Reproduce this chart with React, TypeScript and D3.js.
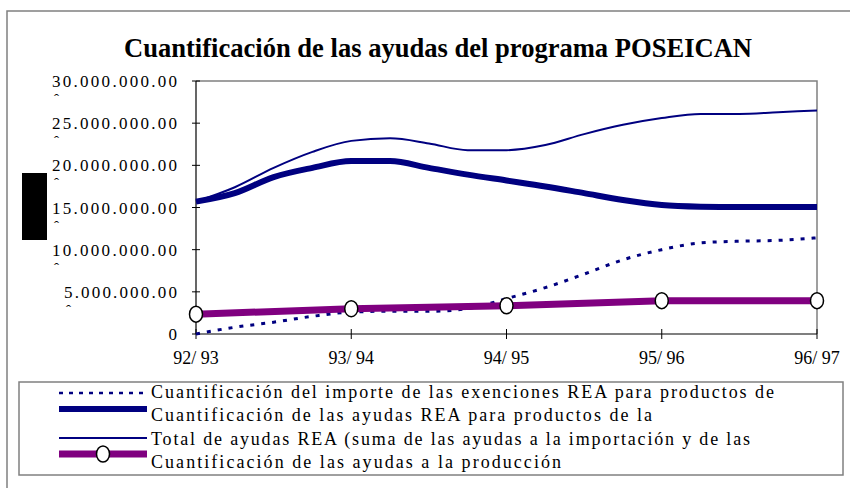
import React from "react";
import * as d3 from "d3";

const yearLabels = ["92/ 93", "93/ 94", "94/ 95", "95/ 96", "96/ 97"];
const yearIdx = [0, 4, 8, 12, 16];
const exenciones = [0, 0.8, 1.4, 2.1, 2.6, 2.7, 2.7, 3.0, 4.2, 5.5, 7.1, 8.8, 10.0, 10.8, 11.0, 11.1, 11.4];
const ayudasREA = [15.7, 16.7, 18.6, 19.7, 20.5, 20.5, 19.7, 18.9, 18.2, 17.5, 16.7, 15.9, 15.3, 15.1, 15.05, 15.05, 15.05];
const totalREA = [15.7, 17.4, 19.7, 21.6, 22.9, 23.2, 22.6, 21.8, 21.8, 22.4, 23.7, 24.8, 25.6, 26.1, 26.1, 26.3, 26.5];
const produccion = [2.35, 3.0, 3.35, 3.95, 3.95];
const yTicks = [0, 5, 10, 15, 20, 25, 30];
const yTickLabels = ["0", "5.000.000.00", "10.000.000.00", "15.000.000.00", "20.000.000.00", "25.000.000.00", "30.000.000.00"];
const legendLabels = [
  "Cuantificación del importe de las exenciones REA para productos de",
  "Cuantificación de las ayudas REA para productos de la",
  "Total de ayudas REA (suma de las ayudas a la importación y de las",
  "Cuantificación de las ayudas a la producción",
];

const NAVY = "#000080";
const PURPLE = "#800080";
const FONT = "Liberation Serif, Times New Roman, serif";

export default function App() {
  const W = 850, H = 488;
  const x = d3.scaleLinear().domain([0, 16]).range([196, 817]);
  const y = d3.scaleLinear().domain([0, 30]).range([334, 81]);
  const line = d3.line<number>().x((_, i) => x(i)).y((d) => y(d)).curve(d3.curveMonotoneX);
  const prodLine = d3.line<number>().x((_, i) => x(yearIdx[i])).y((d) => y(d));

  const legendRows = [
    { sy: 393, ty: 398, len: 623 },
    { sy: 409, ty: 421, len: 501 },
    { sy: 438, ty: 445, len: 599 },
    { sy: 454, ty: 468, len: 410 },
  ];
  const labelRight = 177;

  return (
    <div style={{ position: "absolute", left: 0, top: 0 }}>
      <svg width={W} height={H} style={{ display: "block", background: "#fff" }}>
        {/* outer frame */}
        <path d={`M7,${H + 5} V11 H${W + 5}`} fill="none" stroke="#808080" strokeWidth={1.5} />
        {/* title */}
        <text x={124} y={57} fontFamily={FONT} fontWeight="bold" fontSize={27} textLength={628} lengthAdjust="spacingAndGlyphs">
          Cuantificación de las ayudas del programa POSEICAN
        </text>
        {/* black box (axis title) */}
        <rect x={22} y={173} width={25} height={67} fill="#000" />
        {/* plot frame */}
        <path d={`M${x(0)},${y(30)} H${x(16)} V${y(0)}`} fill="none" stroke="#808080" strokeWidth={1.5} />
        {/* axes */}
        <line x1={x(0)} x2={x(0)} y1={y(30)} y2={y(0)} stroke="#000" strokeWidth={1.2} />
        <line x1={x(0)} x2={x(16)} y1={y(0)} y2={y(0)} stroke="#000" strokeWidth={1.2} />
        {yTicks.map((t, i) => {
          const len = yTickLabels[i].length === 13 ? 125 : 113;
          return (
            <g key={"yt" + i}>
              <line x1={x(0) - 4} x2={x(0) + 4} y1={y(t)} y2={y(t)} stroke="#000" strokeWidth={1} />
              {i === 0 ? (
                <text x={labelRight} y={y(t) + 6} textAnchor="end" fontFamily={FONT} fontSize={17}>
                  {yTickLabels[i]}
                </text>
              ) : (
                <>
                  <text x={labelRight - len} y={y(t) + 6} fontFamily={FONT} fontSize={17} textLength={len} lengthAdjust="spacing">
                    {yTickLabels[i]}
                  </text>
                  <text x={labelRight - len + 2} y={y(t) + 23} fontFamily={FONT} fontSize={15}>
                    ˆ
                  </text>
                </>
              )}
            </g>
          );
        })}
        {yearIdx.map((qi, i) => (
          <g key={"xt" + i}>
            <line x1={x(qi)} x2={x(qi)} y1={y(0) - 5} y2={y(0) + 5} stroke="#000" strokeWidth={1} />
            <text x={x(qi)} y={364} textAnchor="middle" fontFamily={FONT} fontSize={18}>
              {yearLabels[i]}
            </text>
          </g>
        ))}
        {/* series */}
        <path d={line(totalREA) || ""} fill="none" stroke={NAVY} strokeWidth={2} />
        <path d={line(ayudasREA) || ""} fill="none" stroke={NAVY} strokeWidth={6} />
        <path d={line(exenciones) || ""} fill="none" stroke={NAVY} strokeWidth={3} strokeDasharray="4,7" />
        <path d={prodLine(produccion) || ""} fill="none" stroke={PURPLE} strokeWidth={7} />
        {produccion.map((v, i) => (
          <ellipse key={"m" + i} cx={x(yearIdx[i])} cy={y(v)} rx={6.5} ry={8} fill="#fff" stroke="#000" strokeWidth={1.5} />
        ))}
        {/* legend */}
        <rect x={19} y={382} width={824} height={93} fill="#fff" stroke="#808080" strokeWidth={1.5} />
        <line x1={59} x2={147} y1={legendRows[0].sy} y2={legendRows[0].sy} stroke={NAVY} strokeWidth={2.5} strokeDasharray="4,6" />
        <line x1={59} x2={147} y1={legendRows[1].sy} y2={legendRows[1].sy} stroke={NAVY} strokeWidth={6} />
        <line x1={59} x2={147} y1={legendRows[2].sy} y2={legendRows[2].sy} stroke={NAVY} strokeWidth={2} />
        <line x1={59} x2={147} y1={legendRows[3].sy} y2={legendRows[3].sy} stroke={PURPLE} strokeWidth={7} />
        <ellipse cx={103} cy={legendRows[3].sy} rx={6.5} ry={8} fill="#fff" stroke="#000" strokeWidth={1.5} />
        {legendLabels.map((l, i) => (
          <text key={"lg" + i} x={151} y={legendRows[i].ty} fontFamily={FONT} fontSize={18} textLength={legendRows[i].len} lengthAdjust="spacing">
            {l}
          </text>
        ))}
      </svg>
    </div>
  );
}
